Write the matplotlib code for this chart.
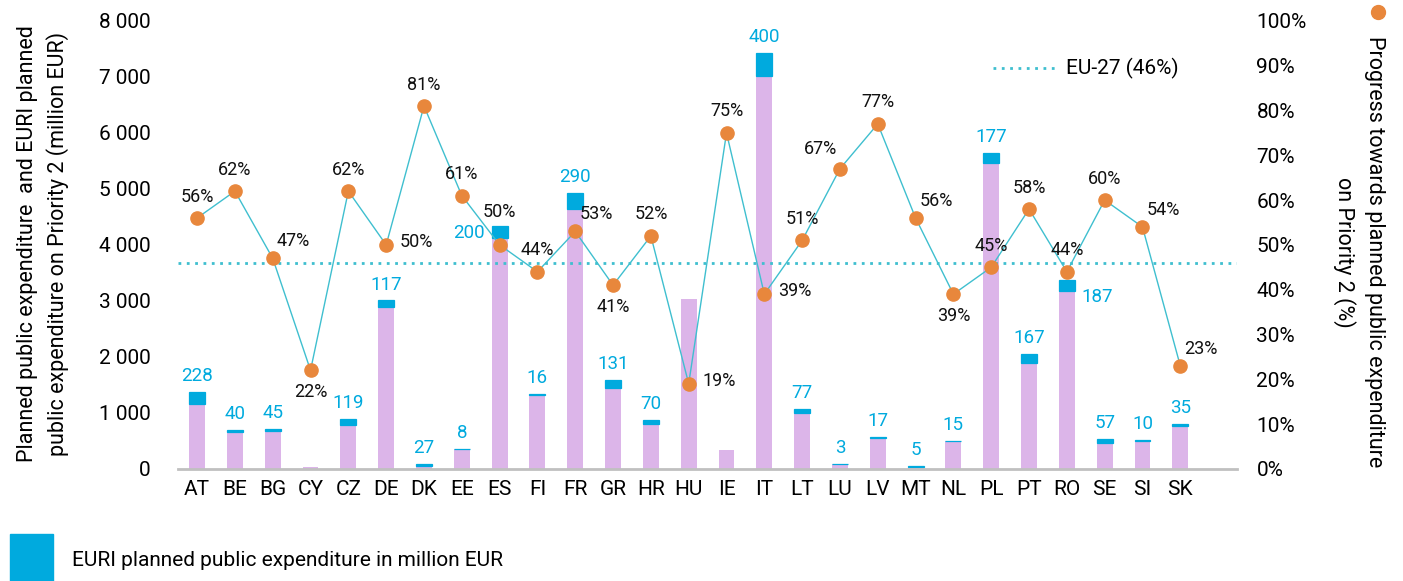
import matplotlib
matplotlib.use("Agg")
import matplotlib.pyplot as plt
import numpy as np

plt.rcParams['font.family'] = ['Roboto', 'DejaVu Sans']

countries = ["AT","BE","BG","CY","CZ","DE","DK","EE","ES","FI","FR","GR","HR","HU",
             "IE","IT","LT","LU","LV","MT","NL","PL","PT","RO","SE","SI","SK"]
other_exp = [1150, 650, 670, 30, 775, 2890, 60, 350, 4130, 1320, 4640, 1450, 800, 3040,
             340, 7020, 990, 90, 560, 40, 490, 5460, 1890, 3180, 470, 500, 760]
euri_exp = [228, 40, 45, 0, 119, 117, 27, 8, 200, 16, 290, 131, 70, 0,
            0, 400, 77, 3, 17, 5, 15, 177, 167, 187, 57, 10, 35]
progress = [56, 62, 47, 22, 62, 50, 81, 61, 50, 44, 53, 41, 52, 19,
            75, 39, 51, 67, 77, 56, 39, 45, 58, 44, 60, 54, 23]
eu27 = 46
left_ticks = [0, 1000, 2000, 3000, 4000, 5000, 6000, 7000, 8000]
right_ticks = list(range(0, 101, 10))

# label placement (style only)
pct_pos = ["a","a","ar","b","a","r","a","a","a2","a","ar","b","a","r",
           "a","r","a","al","a","ar","b","a","a","a","a","ar","ar"]
euri_pos = {8: "l", 23: "r"}

PURPLE = "#DCB5E9"
BLUE = "#00AADE"
TEAL = "#3FBFCF"
ORANGE = "#E8873C"

fig = plt.figure(figsize=(14.03, 5.81), dpi=100)
ax = fig.add_axes([0.127, 0.193, 0.8817 - 0.127, 0.964 - 0.193])
x = np.arange(len(countries))
w = 0.42
ax.bar(x, other_exp, width=w, color=PURPLE, zorder=2)
ax.bar(x, euri_exp, width=w, bottom=other_exp, color=BLUE, zorder=2,
       edgecolor=BLUE, linewidth=[0.9 if v > 0 else 0 for v in euri_exp])
ax.set_ylim(0, 8000)
ax.set_xlim(-0.5, 27.5)
ax.set_yticks(left_ticks)
ax.set_yticklabels([f"{v:,}".replace(",", " ") for v in left_ticks])
ax.set_xticks(x)
ax.set_xticklabels(countries)
ax.tick_params(axis='both', length=0, labelsize=15)
ax.tick_params(axis='y', pad=20)
ax.tick_params(axis='x', pad=8)
for s in ["top", "right", "left"]:
    ax.spines[s].set_visible(False)
ax.spines["bottom"].set_color("#C0C0C0")
ax.spines["bottom"].set_linewidth(2)

for i, (o, e) in enumerate(zip(other_exp, euri_exp)):
    if e <= 0:
        continue
    top = o + e
    p = euri_pos.get(i, "a")
    if p == "a":
        ax.annotate(str(e), (i, top), xytext=(0, 5), textcoords="offset points",
                    ha="center", va="bottom", color=BLUE, fontsize=13.5)
    elif p == "l":
        ax.annotate(str(e), (i - w / 2, top), xytext=(-5, -5), textcoords="offset points",
                    ha="right", va="center", color=BLUE, fontsize=13.5)
    else:
        ax.annotate(str(e), (i + w / 2, top), xytext=(5, -12), textcoords="offset points",
                    ha="left", va="center", color=BLUE, fontsize=13.5)

ax2 = ax.twinx()
ax2.set_position(ax.get_position())
ax2.set_ylim(0, 100)
ax2.set_yticks(right_ticks)
ax2.set_yticklabels([f"{v}%" for v in right_ticks])
ax2.tick_params(axis='y', length=0, labelsize=15, pad=14)
for s in ax2.spines.values():
    s.set_visible(False)
ax2.axhline(eu27, color=TEAL, linestyle=(0, (1, 2)), linewidth=2, zorder=3)
ax2.plot(x, progress, color=TEAL, linewidth=1, marker="o", markersize=9.5,
         markerfacecolor=ORANGE, markeredgecolor=ORANGE, zorder=4)

offs = {"a": (0, 9, "center", "bottom"), "a2": (0, 17, "center", "bottom"),
        "b": (0, -9, "center", "top"),
        "r": (10, 2, "left", "center"), "ar": (3, 6, "left", "bottom"),
        "al": (-2, 8, "right", "bottom")}
for i, (v, p) in enumerate(zip(progress, pct_pos)):
    dx, dy, ha, va = offs[p]
    ax2.annotate(f"{v}%", (i, v), xytext=(dx, dy), textcoords="offset points",
                 ha=ha, va=va, fontsize=13, color="#111111", zorder=5)

# EU-27 legend (top right)
fig.add_artist(plt.Line2D([993 / 1403, 1055 / 1403], [1 - 68 / 581, 1 - 68 / 581],
                          transform=fig.transFigure, color=TEAL,
                          linestyle=(0, (1, 2)), linewidth=2))
fig.text(1066 / 1403, 1 - 68 / 581, "EU-27 (46%)", fontsize=15, va="center", ha="left")

# Axis titles
fig.text(43 / 1403, 1 - 244 / 581,
         "Planned public expenditure  and EURI planned\npublic expenditure on Priority 2 (million EUR)",
         rotation=90, ha="center", va="center", fontsize=15.5, linespacing=1.4)
fig.text(1359 / 1403, 1 - 252 / 581,
         "Progress towards planned public expenditure\non Priority 2 (%)",
         rotation=270, ha="center", va="center", fontsize=15.5, linespacing=1.4)
fig.add_artist(plt.Line2D([1378 / 1403], [1 - 12 / 581], transform=fig.transFigure,
                          marker="o", markersize=10, color=ORANGE, linestyle="none"))

# Bottom legend
fig.add_artist(matplotlib.patches.Rectangle((10 / 1403, 0), 43 / 1403, 47 / 581,
                                            transform=fig.transFigure, color=BLUE))
fig.text(72 / 1403, 1 - 560 / 581, "EURI planned public expenditure in million EUR",
         fontsize=15, va="center", ha="left")

fig.savefig("out.png", dpi=100)
